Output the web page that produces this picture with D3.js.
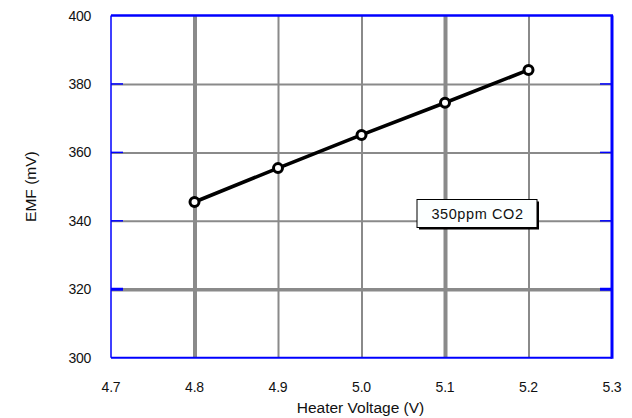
<!DOCTYPE html>
<html><head><meta charset="utf-8">
<script src="https://cdn.jsdelivr.net/npm/d3@7"></script>
<style>
html,body{margin:0;padding:0;background:#fff;}
text{font-family:"Liberation Sans",Arial,sans-serif;fill:#111;}
</style></head>
<body>
<svg id="chart" width="632" height="418"></svg>
<script>
const voltage = [4.8, 4.9, 5.0, 5.1, 5.2];
const emf = [345.5, 355.4, 365.1, 374.5, 384.1];
const xTicks = [4.7, 4.8, 4.9, 5.0, 5.1, 5.2, 5.3];
const yTicks = [300, 320, 340, 360, 380, 400];
const heavyX = [4.8, 5.1];
const heavyY = [320];
const xTitle = "Heater Voltage (V)";
const yTitle = "EMF (mV)";
const note = "350ppm CO2";

const svg = d3.select("#chart");
const L = 111, R = 612, T = 15.5, B = 357.7;
const x = d3.scaleLinear().domain([4.7, 5.3]).range([L, R]);
const y = d3.scaleLinear().domain([300, 400]).range([B, T]);

// vertical gridlines
const gx = svg.append("g").attr("transform", `translate(0,${B})`)
  .call(d3.axisBottom(x).tickValues(xTicks.slice(1, -1)).tickSize(-(B - T)).tickFormat(""));
gx.select(".domain").remove();
gx.selectAll(".tick line").attr("stroke", "#8a8a8a")
  .attr("stroke-width", d => heavyX.includes(d) ? 4 : 2);

// horizontal gridlines
const gy = svg.append("g").attr("transform", `translate(${L},0)`)
  .call(d3.axisLeft(y).tickValues(yTicks.slice(1, -1)).tickSize(-(R - L)).tickFormat(""));
gy.select(".domain").remove();
gy.selectAll(".tick line").attr("stroke", "#8a8a8a")
  .attr("stroke-width", d => heavyY.includes(d) ? 3.5 : 2);

// blue inner ticks left and right
const inner = yTicks.slice(1, -1);
svg.append("g").selectAll("line.tl").data(inner).join("line")
  .attr("x1", L).attr("x2", L + 12).attr("y1", d => y(d)).attr("y2", d => y(d))
  .attr("stroke", "#0000ff").attr("stroke-width", d => heavyY.includes(d) ? 3 : 1.5);
svg.append("g").selectAll("line.tr").data(inner).join("line")
  .attr("x1", R - 12).attr("x2", R).attr("y1", d => y(d)).attr("y2", d => y(d))
  .attr("stroke", "#0000ff").attr("stroke-width", d => heavyY.includes(d) ? 3 : 1.5);

// blue frame
const fr = svg.append("g").attr("stroke", "#0000ff");
fr.append("line").attr("x1", L).attr("x2", L).attr("y1", T).attr("y2", B).attr("stroke-width", 1.5);
fr.append("line").attr("x1", L).attr("x2", R + 1).attr("y1", T).attr("y2", T).attr("stroke-width", 2.5);
fr.append("line").attr("x1", R).attr("x2", R).attr("y1", T).attr("y2", B + 1).attr("stroke-width", 3);
fr.append("line").attr("x1", L).attr("x2", R).attr("y1", B).attr("y2", B).attr("stroke-width", 2);

// tick labels
svg.append("g").selectAll("text").data(yTicks).join("text")
  .attr("x", 91).attr("y", d => y(d) + 5)
  .attr("text-anchor", "end").attr("font-size", 14).attr("letter-spacing", -0.3)
  .text(d => d);
svg.append("g").selectAll("text").data(xTicks).join("text")
  .attr("x", d => x(d)).attr("y", 392)
  .attr("text-anchor", "middle").attr("font-size", 14).attr("letter-spacing", -0.2)
  .text(d => d.toFixed(1));

// axis titles
svg.append("text").attr("x", (L + R) / 2 - 1).attr("y", 413)
  .attr("text-anchor", "middle").attr("font-size", 15.5).text(xTitle);
svg.append("text").attr("transform", `translate(36,${(T + B) / 2}) rotate(-90)`)
  .attr("text-anchor", "middle").attr("font-size", 15.5).text(yTitle);

// line + markers
const pts = voltage.map((v, i) => [v, emf[i]]);
svg.append("path").datum(pts)
  .attr("fill", "none").attr("stroke", "#000").attr("stroke-width", 3.6)
  .attr("d", d3.line().x(d => x(d[0])).y(d => y(d[1])));
svg.append("g").selectAll("circle").data(pts).join("circle")
  .attr("cx", d => x(d[0])).attr("cy", d => y(d[1])).attr("r", 4.5)
  .attr("fill", "#fff").attr("stroke", "#000").attr("stroke-width", 3);

// annotation box
const bx = 417, by = 199.5, bw = 120, bh = 28;
svg.append("rect").attr("x", bx + 2).attr("y", by + 2).attr("width", bw).attr("height", bh).attr("fill", "#000");
svg.append("rect").attr("x", bx).attr("y", by).attr("width", bw).attr("height", bh)
  .attr("fill", "#fcffff").attr("stroke", "#000").attr("stroke-width", 1);
svg.append("text").attr("x", bx + bw / 2 + 0.5).attr("y", by + 19.5)
  .attr("text-anchor", "middle").attr("font-size", 14.5).attr("letter-spacing", 0.6).text(note);
</script>
</body></html>
